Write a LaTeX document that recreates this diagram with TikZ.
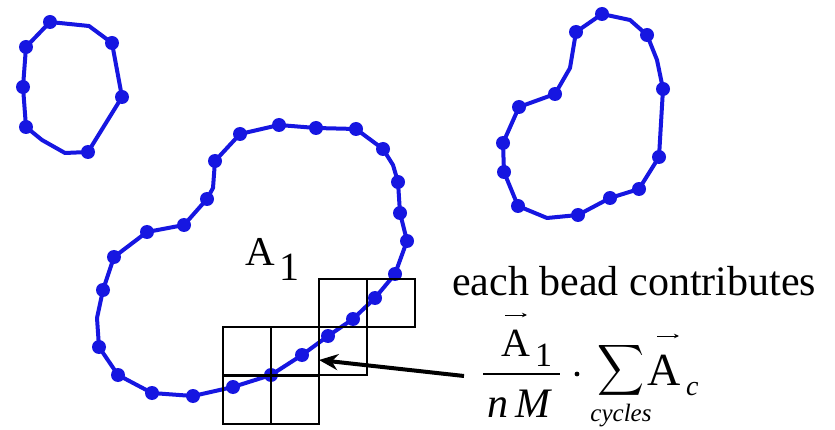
\documentclass[tikz,border=0pt]{standalone}
\usepackage{fontspec}
\setmainfont{Liberation Serif}
\usepackage{graphicx}
\usetikzlibrary{arrows.meta}
\definecolor{beadblue}{RGB}{22,22,225}
\tikzset{
  chain/.style={draw=beadblue, line width=4pt, line join=round},
  bead/.style={fill=beadblue},
  cell/.style={draw=black, line width=2.1pt},
  lbl/.style={inner sep=0pt, anchor=base west},
  vecarrow/.style={-{Stealth[length=5pt,width=4.5pt]}, line width=0.9pt},
  pointer/.style={-{Stealth[length=19pt,width=16pt]}, line width=4pt},
}
\begin{document}
\begin{tikzpicture}[x=1pt,y=-1pt]
\useasboundingbox[fill=white] (0,0) rectangle (835,430);

% small loop, top left
\draw[chain] (50,22) -- (89,26) -- (112,43) -- (122,97) -- (88,152) -- (65,153) -- (42,140) -- (26,127) -- (23,87) -- (26,47) -- cycle;
\foreach \p in {(50,22),(112,43),(122,97),(88,152),(26,127),(23,87),(26,47)}
  \fill[bead] \p circle[radius=7];

% loop, top right
\draw[chain] (602,14) -- (630,20) -- (647,35) -- (657,60) -- (663,89) -- (659,157) -- (639,189) -- (610,198) -- (578,215) -- (547,218) -- (518,206) -- (504,172) -- (503,143) -- (519,107) -- (555,94) -- (570,68) -- (576,32) -- cycle;
\foreach \p in {(602,14),(647,35),(663,89),(659,157),(639,189),(610,198),(578,215),(518,206),(504,172),(503,143),(519,107),(555,94),(576,32)}
  \fill[bead] \p circle[radius=7];

% big loop
\draw[chain] (240,134) -- (279,125) -- (316,128) -- (356,129) -- (383,149) -- (393,165) -- (398,182) -- (400,213) -- (407,241) -- (395,274) -- (375,298) -- (353,319) -- (328,336) -- (302,355) -- (271,375) -- (233,387) -- (193,396) -- (152,393) -- (118,375) -- (99,347) -- (97,318) -- (103,290) -- (114,257) -- (147,232) -- (184,225) -- (207,199) -- (213,188) -- (215,161) -- cycle;
\foreach \p in {(240,134),(279,125),(316,128),(356,129),(383,149),(398,182),(400,213),(407,241),(395,274),(375,298),(353,319),(328,336),(302,355),(271,375),(233,387),(193,396),(152,393),(118,375),(99,347),(103,290),(114,257),(147,232),(184,225),(207,199),(215,161)}
  \fill[bead] \p circle[radius=7];

% grid cells
\foreach \x/\y in {319/279,367/279,223/327,271/327,319/327,223/376,271/376}
  \draw[cell] (\x,\y) rectangle ++(48,48);

% label A_1
\node[lbl, font=\fontsize{41}{48}\selectfont] (areaA) at (245,266) {A};
\node[lbl, font=\fontsize{40}{48}\selectfont] (areaOne) at (279,280) {1};

% text
\node[lbl, font=\fontsize{42}{50}\selectfont] (each) at (452,295) {each bead contributes};

% pointer arrow
\coordinate (ptrStart) at (464,376);
\coordinate (ptrTip) at (319,360);
\draw[pointer] (ptrStart) -- (ptrTip);

% formula: fraction
\node[lbl, font=\fontsize{40}{48}\selectfont] (numA) at (501,356) {A};
\node[lbl, font=\fontsize{34}{40}\selectfont] (numOne) at (535,366) {1};
\coordinate (vA1) at (505,315);
\coordinate (vA2) at (527,315);
\draw[vecarrow] (vA1) -- (vA2);
\coordinate (barL) at (483,374);
\coordinate (barR) at (560,374);
\draw[line width=1.8pt] (barL) -- (barR);
\node[lbl, font=\fontsize{42}{48}\selectfont\itshape] (den) at (487,417) {n\,M};
\fill (577,374) circle[radius=2.4];

% sum
\node[inner sep=0pt, anchor=north west] (sum) at (597,342) {\resizebox*{47pt}{57pt}{$\displaystyle\sum$}};
\node[inner sep=0pt, anchor=base, font=\fontsize{25}{30}\selectfont\itshape] (cyc) at (621,421) {cycles};
\node[lbl, font=\fontsize{46}{54}\selectfont] (sumA) at (647,385) {A};
\node[lbl, font=\fontsize{28}{32}\selectfont\itshape] (subc) at (686,395) {c};
\coordinate (vB1) at (657,336);
\coordinate (vB2) at (679,336);
\draw[vecarrow] (vB1) -- (vB2);
\end{tikzpicture}
\end{document}
